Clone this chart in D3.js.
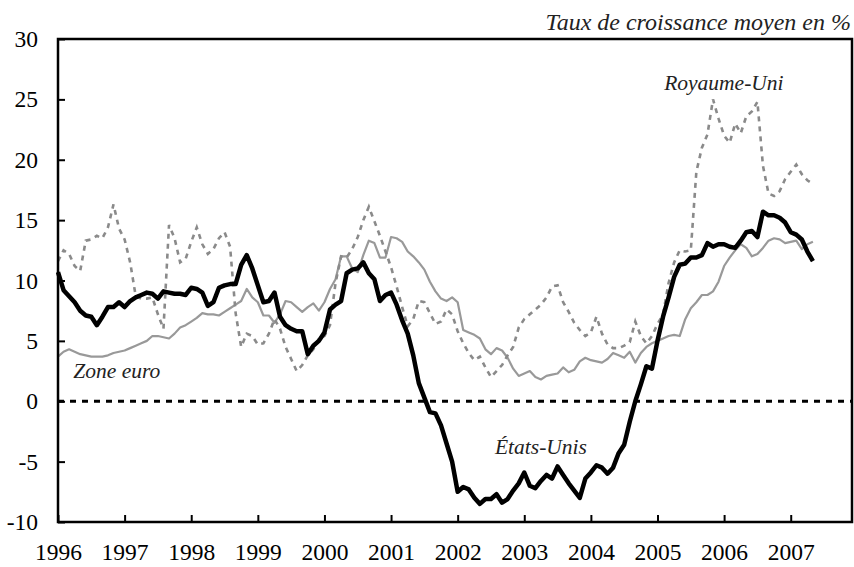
<!DOCTYPE html>
<html>
<head>
<meta charset="utf-8">
<script src="https://cdn.jsdelivr.net/npm/d3@7"></script>
<style>
    body { margin: 0; background: #fff; }
    svg { display: block; }
    svg text { font-family: "Liberation Serif", "DejaVu Serif", serif; }
</style>
</head>
<body>
<div id="chart"></div>
<script>
    'use strict';
    // monthly series, Jan 1996 -> May 2007
    var startYear = 1996,
        yearTicks = [1996, 1997, 1998, 1999, 2000, 2001, 2002, 2003, 2004, 2005, 2006, 2007],
        valueTicks = [-10, -5, 0, 5, 10, 15, 20, 25, 30],
        unitLabel = 'Taux de croissance moyen en %',
        seriesNames = ['Zone euro', 'Royaume-Uni', 'États-Unis'];

    var usValues = [
        10.7, 9.2, 8.7, 8.2, 7.5, 7.1, 7.0, 6.3, 7.0, 7.8,
        7.8, 8.2, 7.8, 8.3, 8.6, 8.8, 9.0, 8.9, 8.5, 9.1,
        9.0, 8.9, 8.9, 8.8, 9.4, 9.3, 9.0, 7.9, 8.2, 9.4,
        9.6, 9.7, 9.7, 11.3, 12.1, 11.0, 9.6, 8.2, 8.3, 9.0,
        7.0, 6.3, 6.0, 5.8, 5.8, 3.9, 4.6, 5.0, 5.7, 7.6,
        8.0, 8.3, 10.6, 10.9, 11.0, 11.5, 10.6, 10.1, 8.3, 8.8,
        9.0, 8.0, 6.7, 5.6, 3.8, 1.5, 0.3, -0.9, -1.0, -2.0,
        -3.5, -5.0, -7.5, -7.1, -7.3, -8.0, -8.5, -8.1, -8.1, -7.7,
        -8.4, -8.1, -7.4, -6.8, -5.9, -7.0, -7.2, -6.6, -6.1, -6.4,
        -5.4, -6.1, -6.8, -7.4, -8.0, -6.4, -5.9, -5.3, -5.5, -6.0,
        -5.5, -4.3, -3.6, -1.7, 0.0, 1.4, 2.9, 2.7, 5.0, 7.0,
        8.6, 10.3, 11.3, 11.4, 11.9, 11.9, 12.1, 13.1, 12.8, 13.0,
        13.0, 12.8, 12.7, 13.3, 14.0, 14.1, 13.6, 15.7, 15.4, 15.4,
        15.2, 14.8, 14.0, 13.8, 13.4, 12.4, 11.6
    ];

    var euroValues = [
        3.7, 4.1, 4.3, 4.1, 3.9, 3.8, 3.7, 3.7, 3.7, 3.8,
        4.0, 4.1, 4.2, 4.4, 4.6, 4.8, 5.0, 5.4, 5.4, 5.3,
        5.2, 5.6, 6.1, 6.3, 6.6, 6.9, 7.3, 7.2, 7.2, 7.1,
        7.4, 7.7, 8.0, 8.3, 9.3, 8.6, 8.2, 7.1, 7.1, 6.5,
        7.2, 8.3, 8.2, 7.8, 7.4, 7.8, 8.1, 7.5, 8.2, 9.3,
        10.1, 12.0, 12.0, 11.0, 10.7, 12.1, 13.3, 13.1, 11.9, 11.9,
        13.6, 13.5, 13.2, 12.4, 12.0, 11.5, 10.9, 9.9, 9.1, 8.5,
        8.3, 8.6, 8.2, 5.9, 5.7, 5.5, 5.2, 4.3, 3.9, 4.4,
        4.2, 3.6, 2.7, 2.1, 2.3, 2.5, 2.0, 1.8, 2.1, 2.2,
        2.3, 2.8, 2.4, 2.6, 3.3, 3.6, 3.4, 3.3, 3.2, 3.5,
        4.0, 3.8, 3.6, 4.1, 3.2, 4.0, 4.5, 4.8, 5.0, 5.2,
        5.4, 5.5, 5.4, 6.8, 7.7, 8.2, 8.8, 8.8, 9.1, 9.9,
        11.2, 11.9, 12.5, 13.0, 12.7, 12.0, 12.2, 12.7, 13.3, 13.5,
        13.4, 13.1, 13.2, 13.3, 12.6, 13.0, 13.2
    ];

    var ukValues = [
        11.6, 12.5, 12.2, 11.2, 10.8, 13.3, 13.4, 13.7, 13.5, 14.4,
        16.3, 14.3, 13.4, 11.5, 8.7, 8.5, 8.5, 8.6, 7.2, 6.0,
        14.6, 13.5, 11.5, 11.8, 13.2, 14.4, 13.0, 12.2, 12.6, 13.5,
        14.0, 12.8, 7.3, 4.5, 5.6, 5.4, 4.7, 4.8, 5.6, 6.8,
        6.0, 4.5, 3.5, 2.5, 3.0, 3.8, 4.3, 5.2, 5.4, 6.3,
        9.8, 12.0, 11.9, 12.6, 13.6, 15.0, 16.1, 14.9, 13.7, 12.4,
        11.1, 9.5, 7.8, 6.2, 6.8, 8.3, 8.2, 7.3, 6.4, 6.6,
        7.6, 7.2, 5.8, 4.8, 4.0, 3.4, 3.7, 2.8, 2.0, 2.5,
        3.0, 3.8, 4.5, 6.1, 6.8, 7.2, 7.6, 8.0, 8.6, 9.5,
        9.6, 8.2, 7.4, 6.5, 5.9, 5.4, 5.7, 7.0, 5.6, 4.7,
        4.4, 4.4, 4.6, 4.9, 6.6, 5.4, 4.8, 5.4, 6.4, 7.2,
        9.8, 11.5, 12.5, 12.4, 12.5, 19.0, 21.0, 22.1, 25.0, 23.4,
        22.0, 21.4, 23.0, 22.2, 23.6, 24.0, 24.8, 19.5, 17.2, 17.0,
        17.4, 18.4, 19.0, 19.6, 18.8, 18.3, 18.0
    ];

    var width = 854,
        height = 567,
        margin = {left: 58, right: 2, top: 39, bottom: 45},
        serif = '"Liberation Serif", "DejaVu Serif", serif';

    var svg = d3.select('#chart').append('svg')
        .attr('width', width)
        .attr('height', height)
        .attr('font-family', serif);

    var x = d3.scaleLinear()
            .domain([1996, 2007.92])
            .range([margin.left, width - margin.right]),
        y = d3.scaleLinear()
            .domain([-10, 30])
            .range([height - margin.bottom, margin.top]);

    var monthX = function (d, i) {
            return x(startYear + i / 12);
        },
        line = d3.line()
            .x(monthX)
            .y(function (d) {
                return y(d);
            });

    // axes, ticks point inside the frame
    var yAxis = svg.append('g')
        .attr('transform', 'translate(' + margin.left + ',0)')
        .call(d3.axisLeft(y)
            .tickValues(valueTicks)
            .tickSizeInner(-7)
            .tickSizeOuter(0)
            .tickPadding(20)
            .tickFormat(function (d) { return String(d); }));

    var xAxis = svg.append('g')
        .attr('transform', 'translate(0,' + y(-10) + ')')
        .call(d3.axisBottom(x)
            .tickValues(yearTicks)
            .tickSizeInner(-7)
            .tickSizeOuter(0)
            .tickPadding(21)
            .tickFormat(function (d) { return String(d); }));

    [yAxis, xAxis].forEach(function (axis) {
        axis.attr('font-family', serif).attr('font-size', 23.5);
        axis.select('.domain').remove();
        axis.selectAll('line').attr('stroke', '#000').attr('stroke-width', 2);
        axis.selectAll('text').attr('fill', '#000');
    });

    // zero line
    svg.append('line')
        .attr('x1', x.range()[0])
        .attr('x2', x.range()[1])
        .attr('y1', y(0))
        .attr('y2', y(0))
        .attr('stroke', '#000')
        .attr('stroke-width', 3)
        .attr('stroke-dasharray', '6,6');

    svg.append('path')
        .datum(euroValues)
        .attr('d', line)
        .attr('fill', 'none')
        .attr('stroke', '#999')
        .attr('stroke-width', 2.2)
        .attr('stroke-linejoin', 'round');

    svg.append('path')
        .datum(ukValues)
        .attr('d', line)
        .attr('fill', 'none')
        .attr('stroke', '#8a8a8a')
        .attr('stroke-width', 2.6)
        .attr('stroke-dasharray', '5,5');

    svg.append('path')
        .datum(usValues)
        .attr('d', line)
        .attr('fill', 'none')
        .attr('stroke', '#000')
        .attr('stroke-width', 4.5)
        .attr('stroke-linejoin', 'round');

    // frame
    svg.append('rect')
        .attr('x', x.range()[0])
        .attr('y', y.range()[1])
        .attr('width', x.range()[1] - x.range()[0])
        .attr('height', y.range()[0] - y.range()[1])
        .attr('fill', 'none')
        .attr('stroke', '#000')
        .attr('stroke-width', 2.5);

    // labels
    svg.append('text')
        .attr('x', width - 3)
        .attr('y', 30)
        .attr('text-anchor', 'end')
        .attr('font-style', 'italic')
        .attr('font-size', 24)
        .attr('fill', '#222')
        .text(unitLabel);

    var labelPos = [
        {name: seriesNames[0], year: 1996.23, value: 1.9},
        {name: seriesNames[1], year: 2005.1, value: 25.8},
        {name: seriesNames[2], year: 2002.56, value: -4.4}
    ];
    svg.selectAll('.series-label')
        .data(labelPos)
        .enter().append('text')
        .attr('class', 'series-label')
        .attr('x', function (d) { return x(d.year); })
        .attr('y', function (d) { return y(d.value); })
        .attr('font-style', 'italic')
        .attr('font-size', 21.5)
        .attr('fill', '#222')
        .text(function (d) { return d.name; });
</script>
</body>
</html>
